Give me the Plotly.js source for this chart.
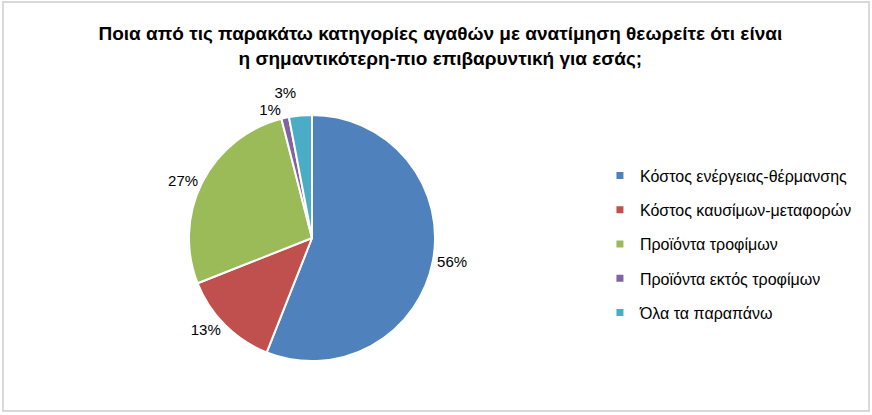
<!DOCTYPE html>
<html>
<head>
<meta charset="utf-8">
<script src="https://cdn.plot.ly/plotly-3.0.1.min.js"></script>
<style>
  html, body { margin:0; padding:0; background:#fff; }
  #wrap { position:relative; width:872px; height:415px; }
  #chart { width:872px; height:415px; }
  #frame { position:absolute; left:2px; top:1px; width:864px; height:407px;
           border:2px solid #d9d9d9; pointer-events:none; }
  #chart path.textline { stroke-opacity:0 !important; }
</style>
</head>
<body>
<div id="wrap"><div id="chart"></div><div id="frame"></div></div>
<script>
const titleText = "Ποια από τις παρακάτω κατηγορίες αγαθών με ανατίμηση θεωρείτε ότι είναι<br>η σημαντικότερη-πιο επιβαρυντική για εσάς;";
const categories = ["Κόστος ενέργειας-θέρμανσης", "Κόστος καυσίμων-μεταφορών", "Προϊόντα τροφίμων", "Προϊόντα εκτός τροφίμων", "Όλα τα παραπάνω"];
const values = [56, 13, 27, 1, 3];
const percentLabels = ["56%", "13%", "27%", "1%", "3%"];
const colors = ["#4F81BD", "#C0504D", "#9BBB59", "#8064A2", "#4BACC6"];

const font = "'Liberation Sans', Arial, sans-serif";

const pie = {
  type: "pie",
  labels: categories,
  values: values,
  text: percentLabels,
  textinfo: "text",
  textposition: "outside",
  sort: false,
  direction: "clockwise",
  rotation: 0,
  marker: { colors: colors, line: { color: "#ffffff", width: 2 } },
  outsidetextfont: { family: font, size: 15, color: "#000" },
  showlegend: false,
  hoverinfo: "label+percent",
  domain: { x: [0.2167, 0.4989], y: [0.130, 0.723] }
};

const legendTraces = categories.map((c, i) => ({
  type: "scatter",
  mode: "markers",
  x: [null], y: [null],
  name: c,
  legendgroup: "g" + i,
  marker: { symbol: "square", size: 7, color: colors[i] },
  hoverinfo: "skip"
}));

const layout = {
  width: 872, height: 415,
  margin: { l: 0, r: 0, t: 0, b: 0 },
  paper_bgcolor: "#fff", plot_bgcolor: "#fff",
  title: {
    text: titleText,
    font: { family: font, size: 19, color: "#000", weight: "bold" },
    x: 0.505, xanchor: "center",
    y: 0.904, yanchor: "top"
  },
  xaxis: { visible: false, domain: [0.8, 0.81] },
  yaxis: { visible: false, domain: [0.8, 0.81] },
  legend: {
    x: 0.688, xanchor: "left",
    y: 0.412, yanchor: "middle",
    font: { family: font, size: 16, color: "#000" },
    tracegroupgap: 10.5,
    itemsizing: "trace",
    bgcolor: "rgba(0,0,0,0)"
  }
};

Plotly.newPlot("chart", [pie].concat(legendTraces), layout, { displayModeBar: false, staticPlot: true });
</script>
</body>
</html>
